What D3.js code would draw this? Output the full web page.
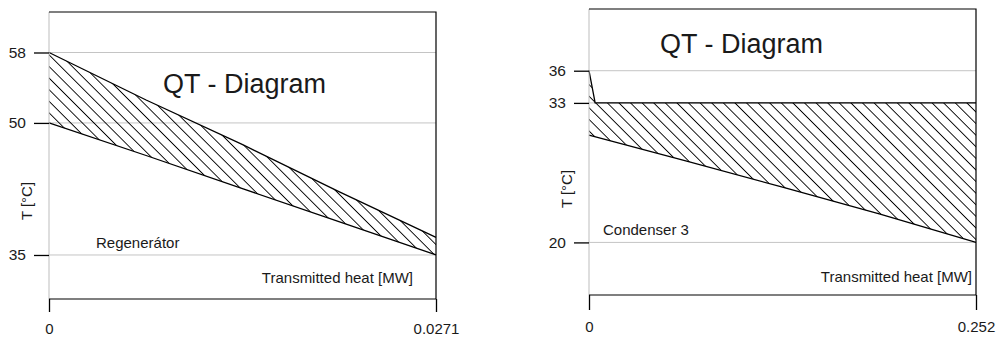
<!DOCTYPE html>
<html>
<head>
<meta charset="utf-8">
<script src="https://cdn.jsdelivr.net/npm/d3@7"></script>
<style>
  html, body { margin: 0; padding: 0; background: #fff; }
  svg { display: block; }
  text { font-family: "Liberation Sans", Arial, sans-serif; fill: #1a1a1a; }
</style>
</head>
<body>
<svg id="chart" width="998" height="338"></svg>
<script>
// Regenerator: heat transmitted [MW] vs. temperature [°C]
const regenHotQ  = [0, 0.0068, 0.0136, 0.0203, 0.0271];
const regenHotT  = [58, 52.6, 47.5, 42.2, 37.0];
const regenColdQ = [0, 0.0068, 0.0136, 0.0203, 0.0271];
const regenColdT = [50, 46.3, 42.5, 38.8, 35];
const regenYTicks = [35, 50, 58];
const regenXTicks = [0, 0.0271];
const regenXTickLabels = ["0", "0.0271"];

// Condenser 3
const condHotQ  = [0, 0.004, 0.252];
const condHotT  = [36, 33, 33];
const condColdQ = [0, 0.063, 0.126, 0.189, 0.252];
const condColdT = [30, 27.6, 25.15, 22.65, 20];
const condYTicks = [20, 33, 36];
const condXTicks = [0, 0.252];
const condXTickLabels = ["0", "0.252"];

const svg = d3.select("#chart");

// diagonal hatching shared by both panels
svg.append("defs").append("pattern")
  .attr("id", "hatch")
  .attr("patternUnits", "userSpaceOnUse")
  .attr("width", 8.2).attr("height", 8.2)
  .attr("patternTransform", "rotate(45)")
  .append("line")
  .attr("x1", 0).attr("y1", 4.1).attr("x2", 8.2).attr("y2", 4.1)
  .attr("stroke", "#000").attr("stroke-width", 0.9);

function panel(cfg) {
  const x = d3.scaleLinear().domain(cfg.xDomain).range([cfg.left, cfg.right]);
  const y = d3.scaleLinear().domain(cfg.yDomain).range([cfg.bottom, cfg.top]);
  const g = svg.append("g");

  // horizontal grid lines
  g.selectAll(".grid").data(cfg.yTicks).join("line")
    .attr("x1", cfg.left).attr("x2", cfg.right)
    .attr("y1", d => y(d)).attr("y2", d => y(d))
    .attr("stroke", "#c4c4c4").attr("stroke-width", 1);

  const hot = cfg.hotQ.map((q, i) => [q, cfg.hotT[i]]);
  const cold = cfg.coldQ.map((q, i) => [q, cfg.coldT[i]]);
  const line = d3.line().x(d => x(d[0])).y(d => y(d[1]));

  // hatched band between the two streams
  g.append("path")
    .attr("d", line(hot.concat(cold.slice().reverse())) + "Z")
    .attr("fill", "url(#hatch)").attr("stroke", "none");

  [hot, cold].forEach(pts => {
    g.append("path").attr("d", line(pts))
      .attr("fill", "none").attr("stroke", "#000").attr("stroke-width", 1.3);
  });

  // frame: grey left axis, black top/right/bottom
  g.append("line").attr("x1", cfg.left).attr("x2", cfg.left)
    .attr("y1", cfg.top).attr("y2", cfg.bottom)
    .attr("stroke", "#bdbdbd").attr("stroke-width", 1);
  g.append("path")
    .attr("d", `M${cfg.left},${cfg.top}H${cfg.right}V${cfg.bottom}H${cfg.left}`)
    .attr("fill", "none").attr("stroke", "#000").attr("stroke-width", 1.2);

  // y axis
  const ya = g.append("g").attr("transform", `translate(${cfg.left},0)`)
    .call(d3.axisLeft(y).tickValues(cfg.yTicks).tickSize(15).tickPadding(8).tickFormat(d3.format("d")));
  ya.select(".domain").remove();
  ya.selectAll("line").attr("stroke", "#000").attr("stroke-width", 1.3);
  ya.selectAll("text").attr("font-size", 15.5).attr("font-family", "Liberation Sans, Arial, sans-serif").attr("fill", "#222");

  // x axis
  const xa = g.append("g").attr("transform", `translate(0,${cfg.bottom})`)
    .call(d3.axisBottom(x).tickValues(cfg.xTicks).tickSize(cfg.xTickSize).tickPadding(cfg.xTickPad)
      .tickFormat((d, i) => cfg.xTickLabels[i]));
  xa.select(".domain").remove();
  xa.selectAll("line").attr("stroke", "#000").attr("stroke-width", 1.3);
  xa.selectAll("text").attr("font-size", 15).attr("font-family", "Liberation Sans, Arial, sans-serif").attr("fill", "#222");

  // labels
  g.append("text").attr("x", cfg.titleX).attr("y", cfg.titleY)
    .attr("font-size", 27).text("QT - Diagram");
  g.append("text").attr("x", cfg.nameX).attr("y", cfg.nameY)
    .attr("font-size", 15).text(cfg.name);
  g.append("text").attr("x", cfg.xLabelEnd).attr("y", cfg.xLabelY)
    .attr("text-anchor", "end").attr("font-size", 15).text("Transmitted heat [MW]");
  g.append("text")
    .attr("transform", `translate(${cfg.left - 17},${cfg.yLabelMid}) rotate(-90)`)
    .attr("text-anchor", "middle").attr("font-size", 15).text("T [°C]");
}

panel({
  left: 49, right: 436, top: 12, bottom: 299,
  xDomain: [0, 0.0271], yDomain: [30, 62.6],
  hotQ: regenHotQ, hotT: regenHotT, coldQ: regenColdQ, coldT: regenColdT,
  yTicks: regenYTicks, xTicks: regenXTicks, xTickLabels: regenXTickLabels,
  xTickSize: 13, xTickPad: 11.5,
  titleX: 163, titleY: 93, name: "Regenerátor", nameX: 96, nameY: 248,
  xLabelEnd: 413, xLabelY: 283, yLabelMid: 201
});

panel({
  left: 589, right: 976, top: 9, bottom: 295,
  xDomain: [0, 0.252], yDomain: [15.1, 41.75],
  hotQ: condHotQ, hotT: condHotT, coldQ: condColdQ, coldT: condColdT,
  yTicks: condYTicks, xTicks: condXTicks, xTickLabels: condXTickLabels,
  xTickSize: 15, xTickPad: 11.5,
  titleX: 660, titleY: 53, name: "Condenser 3", nameX: 603, nameY: 235,
  xLabelEnd: 972, xLabelY: 282, yLabelMid: 189
});
</script>
</body>
</html>
